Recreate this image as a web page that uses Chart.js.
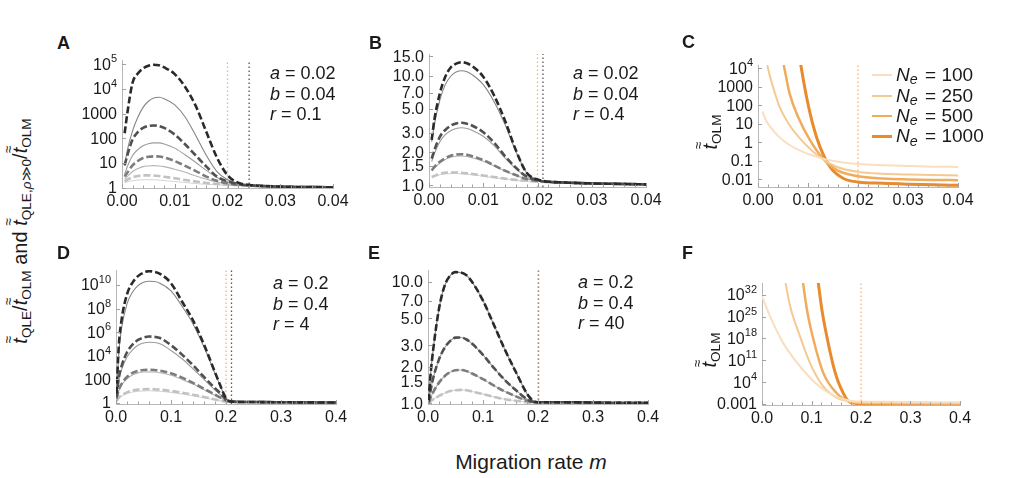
<!DOCTYPE html>
<html>
<head>
<meta charset="utf-8">
<script src="https://cdn.jsdelivr.net/npm/chart.js@4/dist/chart.umd.min.js"></script>
<style>
  body { margin: 0; background: #fff; }
  #fig { position: relative; width: 1024px; height: 478px; overflow: hidden; background: #fff;
         font-family: "Liberation Sans", Arial, sans-serif; color: #1a1a1a; }
  #fig canvas { position: absolute; }
  .lab { position: absolute; font-weight: bold; font-size: 18px; line-height: 18px; }
  .ann { position: absolute; font-size: 18px; line-height: 20.5px; white-space: nowrap; }
  .ttl { position: absolute; white-space: nowrap; transform: translate(-50%, -50%) rotate(-90deg); font-size: 20px; }
  .tt { position: relative; display: inline-block; font-style: italic; }
  .tt .dt { position: absolute; left: 0.03em; top: -0.62em; font-size: 0.7em; font-style: normal; }
  sub { font-size: 0.68em; vertical-align: -0.3em; line-height: 0; }
  .leg { position: absolute; left: 872px; top: 65px; font-size: 19px; }
  .leg div { display: flex; align-items: center; height: 20.4px; white-space: nowrap; }
  .leg span.ln { display: inline-block; width: 20px; margin-right: 4px; }
  .leg .se { font-style: italic; font-size: 0.75em; position: relative; top: 0.3em; margin-right: 0.15em; }
</style>
</head>
<body>
<div id="fig">
  <canvas id="cA"></canvas><canvas id="cB"></canvas><canvas id="cC"></canvas>
  <canvas id="cD"></canvas><canvas id="cE"></canvas><canvas id="cF"></canvas>

  <div class="lab" style="left:57px;top:34px">A</div>
  <div class="lab" style="left:369px;top:34px">B</div>
  <div class="lab" style="left:682px;top:33px">C</div>
  <div class="lab" style="left:57px;top:244px">D</div>
  <div class="lab" style="left:368px;top:244px">E</div>
  <div class="lab" style="left:682px;top:244px">F</div>

  <div class="ann" style="left:270px;top:63px"><i>a</i> = 0.02<br><i>b</i> = 0.04<br><i>r</i> = 0.1</div>
  <div class="ann" style="left:573px;top:63px"><i>a</i> = 0.02<br><i>b</i> = 0.04<br><i>r</i> = 0.4</div>
  <div class="ann" style="left:273px;top:273px"><i>a</i> = 0.2<br><i>b</i> = 0.4<br><i>r</i> = 4</div>
  <div class="ann" style="left:578px;top:272px"><i>a</i> = 0.2<br><i>b</i> = 0.4<br><i>r</i> = 40</div>

  <div class="ttl" style="left:20px;top:231px"><span class="tt">t<span class="dt">≈</span></span><sub>QLE</sub>/<span class="tt">t<span class="dt">≈</span></span><sub>OLM</sub> and <span class="tt">t<span class="dt">≈</span></span><sub>QLE,<i>ρ</i>≫0</sub>/<span class="tt">t<span class="dt">≈</span></span><sub>OLM</sub></div>
  <div class="ttl" style="left:710px;top:132px"><span class="tt">t<span class="dt">≈</span></span><sub>OLM</sub></div>
  <div class="ttl" style="left:709px;top:350px"><span class="tt">t<span class="dt">≈</span></span><sub>OLM</sub></div>

  <div id="legend" class="leg"></div>

  <div style="position:absolute;left:0;width:1062px;top:451px;text-align:center;font-size:21px;line-height:21px">Migration rate <i>m</i></div>
</div>

<script>
// ---- data ----
// panels A, B: m from 0 to 0.04
const mTop = [0.0005, 0.001, 0.002, 0.003, 0.004, 0.005, 0.006, 0.007, 0.008, 0.01,
              0.012, 0.014, 0.016, 0.018, 0.02, 0.022, 0.025, 0.03, 0.035, 0.04];

const aDash1 = [160, 1000, 17800, 41700, 67600, 87000, 95500, 91200, 74100, 39800, 11700, 2000, 178, 16.6, 3.2, 1.6, 1.25, 1.1, 1.06, 1.04];
const aDash2 = [8, 20, 89, 178, 263, 316, 331, 316, 263, 141, 56, 20, 7.1, 2.8, 1.8, 1.4, 1.22, 1.1, 1.06, 1.04];
const aDash3 = [2.8, 4, 8, 12, 16, 17.8, 18.6, 18.2, 16.6, 12, 7.6, 4.7, 2.8, 1.9, 1.5, 1.32, 1.2, 1.1, 1.06, 1.04];
const aDash4 = [1.78, 2.1, 2.6, 2.95, 3.16, 3.16, 3.1, 2.95, 2.75, 2.4, 2.04, 1.78, 1.55, 1.41, 1.32, 1.26, 1.18, 1.1, 1.06, 1.04];
const aSolid1 = [8, 32, 200, 710, 1780, 3160, 4270, 4570, 3980, 2240, 710, 126, 20, 4.5, 2.1, 1.5, 1.25, 1.1, 1.06, 1.04];
const aSolid2 = [3.5, 7, 20, 35, 50, 60, 65, 65, 59, 40, 21, 10.5, 5, 2.6, 1.74, 1.4, 1.22, 1.1, 1.06, 1.04];
const aSolid3 = [2.2, 2.8, 4.5, 5.9, 7.1, 7.6, 7.8, 7.6, 7.1, 5.6, 4.2, 2.95, 2.2, 1.7, 1.45, 1.3, 1.2, 1.1, 1.06, 1.04];
const aSolid4 = [1.58, 1.74, 1.9, 2.04, 2.1, 2.1, 2.1, 2.04, 1.95, 1.78, 1.62, 1.48, 1.38, 1.32, 1.26, 1.23, 1.17, 1.1, 1.06, 1.04];

const bDash1 = [2.6, 4.0, 6.9, 9.8, 11.9, 12.9, 13.3, 13.0, 12.2, 9.8, 6.6, 3.9, 2.1, 1.3, 1.13, 1.08, 1.06, 1.04, 1.03, 1.02];
const bDash2 = [1.75, 2.1, 2.77, 3.2, 3.5, 3.67, 3.72, 3.65, 3.5, 3.05, 2.45, 1.85, 1.45, 1.2, 1.11, 1.08, 1.06, 1.04, 1.03, 1.02];
const bDash3 = [1.37, 1.47, 1.64, 1.77, 1.86, 1.91, 1.92, 1.9, 1.84, 1.7, 1.52, 1.36, 1.24, 1.14, 1.1, 1.07, 1.06, 1.04, 1.03, 1.02];
const bDash4 = [1.19, 1.22, 1.27, 1.3, 1.31, 1.31, 1.3, 1.29, 1.27, 1.23, 1.19, 1.15, 1.12, 1.1, 1.08, 1.07, 1.06, 1.04, 1.03, 1.02];
const bSolid1 = [2.5, 3.6, 6.0, 8.3, 9.9, 10.8, 11.1, 10.9, 10.2, 8.3, 5.8, 3.6, 2.05, 1.3, 1.13, 1.08, 1.06, 1.04, 1.03, 1.02];
const bSolid2 = [1.65, 1.95, 2.5, 2.9, 3.15, 3.3, 3.35, 3.3, 3.17, 2.8, 2.3, 1.78, 1.42, 1.2, 1.11, 1.08, 1.06, 1.04, 1.03, 1.02];
const bSolid3 = [1.35, 1.44, 1.6, 1.72, 1.8, 1.84, 1.85, 1.83, 1.78, 1.66, 1.5, 1.35, 1.23, 1.14, 1.1, 1.07, 1.06, 1.04, 1.03, 1.02];
const bSolid4 = [1.17, 1.2, 1.25, 1.27, 1.28, 1.28, 1.27, 1.26, 1.25, 1.21, 1.17, 1.14, 1.11, 1.09, 1.08, 1.07, 1.06, 1.04, 1.03, 1.02];

// panels D, E: m from 0 to 0.4
const mBot = [0.001, 0.005, 0.01, 0.02, 0.03, 0.04, 0.05, 0.06, 0.07, 0.08, 0.1,
              0.12, 0.14, 0.16, 0.18, 0.19, 0.2, 0.21, 0.25, 0.3, 0.35, 0.4];

const dDash1 = [6.3, 6.3e4, 1e7, 1.6e9, 1.6e10, 5.6e10, 1.1e11, 1.5e11, 1.3e11, 8.9e10, 1.4e10, 4e8, 1e7, 8.9e4, 400, 28, 2.5, 1.3, 1.2, 1.15, 1.12, 1.1];
const dDash2 = [3.2, 126, 1260, 2e4, 8.9e4, 2.2e5, 3.5e5, 4.3e5, 4e5, 3.2e5, 7.9e4, 1.26e4, 1600, 160, 18, 6.3, 2, 1.3, 1.2, 1.15, 1.12, 1.1];
const dDash3 = [2.2, 12.6, 40, 160, 355, 525, 630, 660, 630, 550, 330, 141, 50, 16, 5, 2.8, 1.6, 1.3, 1.2, 1.15, 1.12, 1.1];
const dDash4 = [1.4, 2.8, 4.5, 7.9, 11.2, 13.5, 14.8, 15.1, 14.8, 13.5, 10.5, 7.4, 5, 3.2, 2, 1.6, 1.32, 1.3, 1.2, 1.15, 1.12, 1.1];
const dSolid1 = [5, 1.6e4, 2e6, 2.5e8, 2.5e9, 8.9e9, 1.7e10, 2.1e10, 2e10, 1.4e10, 3.2e9, 1.6e8, 5e6, 5.6e4, 320, 25, 2.5, 1.3, 1.2, 1.15, 1.12, 1.1];
const dSolid2 = [2.8, 80, 630, 7900, 3.2e4, 7.9e4, 1.2e5, 1.4e5, 1.35e5, 1.05e5, 2.8e4, 5600, 800, 100, 12.6, 5.2, 2, 1.3, 1.2, 1.15, 1.12, 1.1];
const dSolid3 = [2, 10, 32, 112, 240, 355, 420, 430, 420, 365, 225, 100, 40, 13, 4.5, 2.6, 1.6, 1.3, 1.2, 1.15, 1.12, 1.1];
const dSolid4 = [1.35, 2.5, 3.9, 6.3, 8.5, 10, 10.7, 11, 10.7, 10, 7.9, 5.8, 4.1, 2.8, 1.85, 1.5, 1.3, 1.3, 1.2, 1.15, 1.12, 1.1];

const eDash1 = [1.05, 1.8, 2.9, 6.0, 9.2, 11.2, 12.0, 11.9, 11.3, 10.0, 7.0, 4.4, 2.75, 1.8, 1.2, 1.06, 1.02, 1.02, 1.02, 1.015, 1.01, 1.01];
const eDash2 = [1.02, 1.3, 1.65, 2.3, 2.85, 3.25, 3.47, 3.48, 3.35, 3.1, 2.5, 1.95, 1.55, 1.28, 1.08, 1.03, 1.02, 1.02, 1.02, 1.015, 1.01, 1.01];
const eDash3 = [1.01, 1.12, 1.25, 1.48, 1.67, 1.8, 1.87, 1.88, 1.84, 1.76, 1.58, 1.4, 1.25, 1.14, 1.05, 1.02, 1.01, 1.01, 1.01, 1.01, 1.01, 1.01];
const eDash4 = [1.0, 1.04, 1.08, 1.15, 1.21, 1.26, 1.28, 1.29, 1.28, 1.25, 1.19, 1.13, 1.08, 1.05, 1.02, 1.01, 1.0, 1.0, 1.0, 1.0, 1.0, 1.0];

// panel C: t_OLM for four N_e, m to 0.04
const neLabels = ['100', '250', '500', '1000'];
const cM100 = [0.0009, 0.0015, 0.0025, 0.004, 0.006, 0.009, 0.013, 0.016, 0.02, 0.025, 0.03, 0.035, 0.04];
const cT100 = [45, 17, 6.5, 2.2, 0.8, 0.3, 0.13, 0.087, 0.066, 0.057, 0.052, 0.048, 0.046];
const cM250 = [0.0017, 0.002, 0.003, 0.0043, 0.0063, 0.009, 0.0123, 0.0157, 0.02, 0.025, 0.03, 0.035, 0.04];
const cT250 = [3e4, 1.0e4, 1000, 83, 8.5, 1.05, 0.16, 0.047, 0.025, 0.02, 0.018, 0.0168, 0.016];
const cM500 = [0.0048, 0.0052, 0.0063, 0.008, 0.0104, 0.013, 0.0158, 0.02, 0.025, 0.03, 0.035, 0.04];
const cT500 = [4e4, 1.3e4, 450, 24, 1.3, 0.13, 0.031, 0.0145, 0.011, 0.0098, 0.0092, 0.0089];
const cM1000 = [0.0083, 0.0086, 0.0097, 0.0111, 0.0124, 0.0144, 0.0171, 0.02, 0.025, 0.03, 0.035, 0.04];
const cT1000 = [4e4, 1.3e4, 290, 6.8, 0.56, 0.047, 0.011, 0.0071, 0.006, 0.0054, 0.005, 0.0047];

// panel F: m to 0.4
const fM100 = [0.0, 0.0166, 0.043, 0.083, 0.1166, 0.15, 0.178, 0.2, 0.25, 0.3, 0.35, 0.4];
const fT100 = [3.2e31, 1e25, 3.2e16, 7.9e7, 360, 0.22, 0.0115, 0.0063, 0.005, 0.0045, 0.004, 0.004];
const fM250 = [0.045, 0.057, 0.077, 0.097, 0.124, 0.15, 0.178, 0.2, 0.25, 0.3, 0.35, 0.4];
const fT250 = [1e38, 1.6e28, 4e18, 1.3e10, 360, 0.126, 0.0063, 0.0032, 0.0025, 0.0022, 0.002, 0.002];
const fM500 = [0.081, 0.0908, 0.104, 0.124, 0.151, 0.178, 0.2, 0.25, 0.3, 0.35, 0.4];
const fT500 = [1e38, 1.6e27, 4e17, 7.9e6, 2.75, 0.005, 0.002, 0.0016, 0.0014, 0.0013, 0.0013];
const fM1000 = [0.112, 0.121, 0.131, 0.1445, 0.158, 0.178, 0.2, 0.25, 0.3, 0.35, 0.4];
const fT1000 = [1e38, 1.6e27, 4e18, 1e9, 360, 0.0032, 0.0013, 0.001, 0.001, 0.001, 0.001];

// dotted vertical markers (m values)
const critA = [0.02, 0.0241];
const critB = [0.02, 0.021];
const critD = [0.2, 0.21];
const critE = [0.2, 0.201];
const critC = [0.02];
const critF = [0.2];

// y tick values and labels ("base^exp" is drawn with a raised exponent)
const yTicksA = [1, 10, 100, 1000, 1e4, 1e5];
const yLabelsA = ['1', '10', '100', '1000', '10^4', '10^5'];
const yTicksB = [1, 1.5, 2, 3, 5, 7, 10, 15];
const yLabelsB = ['1.0', '1.5', '2.0', '3.0', '5.0', '7.0', '10.0', '15.0'];
const yTicksC = [0.01, 0.1, 1, 10, 100, 1000, 1e4];
const yLabelsC = ['0.01', '0.1', '1', '10', '100', '1000', '10^4'];
const yTicksD = [1, 100, 1e4, 1e6, 1e8, 1e10];
const yLabelsD = ['1', '100', '10^4', '10^6', '10^8', '10^10'];
const yTicksE = [1, 1.5, 2, 3, 5, 7, 10];
const yLabelsE = ['1.0', '1.5', '2.0', '3.0', '5.0', '7.0', '10.0'];
const yTicksF = [0.001, 1e4, 1e11, 1e18, 1e25, 1e32];
const yLabelsF = ['0.001', '10^4', '10^11', '10^18', '10^25', '10^32'];

// ---- styles ----
const dashGrey = ['#2a2a2a', '#505050', '#7c7c7c', '#c2c2c2'];
const solidGrey = ['#858585', '#9c9c9c', '#b4b4b4', '#d6d6d6'];
const orange = ['#f9dfbf', '#f5c992', '#f0ac5c', '#e98a2c'];
const orangeW = [2, 2, 2.5, 3];
const critColor = ['#f2b27a', '#555555'];
const FONT = '"Liberation Sans", Arial, sans-serif';
const TICK_PX = 16;

Chart.defaults.font.family = FONT;

// inward tick marks and y labels with superscripts
const innerTicks = {
  id: 'innerTicks',
  afterDraw(chart, args, opts) {
    const {ctx, chartArea: a, scales: {x, y}} = chart;
    ctx.save();
    ctx.strokeStyle = '#a0a0a0';
    ctx.lineWidth = 1;
    ctx.beginPath();
    x.ticks.forEach(t => {
      const px = Math.round(x.getPixelForValue(t.value)) + 0.5;
      const len = t.label ? 4 : 2.5;
      ctx.moveTo(px, a.bottom);
      ctx.lineTo(px, a.bottom - len);
    });
    y.ticks.forEach(t => {
      const py = Math.round(y.getPixelForValue(t.value)) + 0.5;
      ctx.moveTo(a.left, py);
      ctx.lineTo(a.left + 4, py);
    });
    ctx.stroke();

    ctx.fillStyle = '#1a1a1a';
    ctx.textAlign = 'right';
    ctx.textBaseline = 'middle';
    const xr = a.left - 5;
    opts.labels.forEach((lab, i) => {
      const py = y.getPixelForValue(opts.values[i]);
      const parts = lab.split('^');
      if (parts.length === 2) {
        ctx.font = '11px ' + FONT;
        const ew = ctx.measureText(parts[1]).width;
        ctx.fillText(parts[1], xr, py - 5);
        ctx.font = TICK_PX + 'px ' + FONT;
        ctx.fillText(parts[0], xr - ew, py + 1);
      } else {
        ctx.font = TICK_PX + 'px ' + FONT;
        ctx.fillText(lab, xr, py + 1);
      }
    });
    ctx.restore();
  }
};

function curve(xs, ys, color, width, dash, order) {
  return {
    data: xs.map((x, i) => ({x: x, y: ys[i]})),
    borderColor: color, borderWidth: width, borderDash: dash,
    pointRadius: 0, fill: false, cubicInterpolationMode: 'monotone', order: order
  };
}

function vline(m, yMin, yMax, color) {
  return {
    data: [{x: m, y: yMin}, {x: m, y: yMax}],
    borderColor: color, borderWidth: 1.3, borderDash: [1.5, 2.5],
    pointRadius: 0, fill: false, order: 5
  };
}

function panel(id, box, xMax, yMin, yMax, yTicks, yLabels, datasets) {
  const yW = 52, padTop = 14, xH = 28, padR = 22;
  const cv = document.getElementById(id);
  const w = box.r - box.l + yW + padR;
  const h = box.b - box.t + padTop + xH;
  cv.width = w; cv.height = h;
  cv.style.width = w + 'px'; cv.style.height = h + 'px';
  cv.style.left = (box.l - yW) + 'px';
  cv.style.top = (box.t - padTop) + 'px';
  const step = xMax / 20;
  const digits = xMax < 0.1 ? 2 : 1;
  new Chart(cv, {
    type: 'line',
    data: {datasets: datasets},
    plugins: [innerTicks],
    options: {
      responsive: false, animation: false, events: [],
      layout: {padding: {top: padTop, right: padR, left: 0, bottom: 0}},
      plugins: {
        legend: {display: false}, tooltip: {enabled: false},
        innerTicks: {values: yTicks, labels: yLabels}
      },
      scales: {
        x: {
          type: 'linear', min: 0, max: xMax,
          grid: {display: false, drawTicks: false},
          border: {color: '#b8b8b8'},
          afterBuildTicks: s => {
            const t = [];
            for (let i = 0; i <= 20; i++) t.push({value: i * step});
            s.ticks = t;
          },
          ticks: {
            autoSkip: false, maxRotation: 0, padding: 4, color: '#1a1a1a',
            font: {size: TICK_PX},
            callback: (v, i) => (i % 5 === 0 ? (i * step).toFixed(digits) : '')
          },
          afterFit: s => { s.height = xH; }
        },
        y: {
          type: 'logarithmic', min: yMin, max: yMax,
          grid: {display: false, drawTicks: false},
          border: {color: '#b8b8b8'},
          afterBuildTicks: s => { s.ticks = yTicks.map(v => ({value: v})); },
          ticks: {display: false},
          afterFit: s => { s.width = yW; }
        }
      }
    }
  });
}

function greyPanel(xs, dashes, solids, crit, yMin, yMax) {
  const ds = [];
  crit.forEach((m, i) => ds.push(vline(m, yMin, yMax, critColor[i])));
  solids.forEach((ys, i) => ds.push(curve(xs, ys, solidGrey[i], 1.1, [], 2)));
  dashes.forEach((ys, i) => ds.push(curve(xs, ys, dashGrey[i], 2.6, [7, 3], 1)));
  return ds;
}

function orangePanel(ms, ts, crit, yMin, yMax) {
  const ds = [];
  crit.forEach(m => ds.push(vline(m, yMin, yMax, critColor[0])));
  ms.forEach((xs, i) => ds.push(curve(xs, ts[i], orange[i], orangeW[i], [], 1)));
  return ds;
}

const boxes = {
  A: {l: 122, t: 60, r: 333, b: 188},
  B: {l: 429, t: 54, r: 646, b: 187},
  C: {l: 758, t: 65, r: 958, b: 187},
  D: {l: 116, t: 270, r: 336, b: 404},
  E: {l: 428, t: 270, r: 648, b: 404},
  F: {l: 762, t: 283, r: 960, b: 405}
};

panel('cA', boxes.A, 0.04, 0.97, 1.48e5, yTicksA, yLabelsA,
  greyPanel(mTop, [aDash1, aDash2, aDash3, aDash4], [aSolid1, aSolid2, aSolid3, aSolid4], critA, 0.97, 1.48e5));
panel('cB', boxes.B, 0.04, 0.965, 15.8, yTicksB, yLabelsB,
  greyPanel(mTop, [bDash1, bDash2, bDash3, bDash4], [bSolid1, bSolid2, bSolid3, bSolid4], critB, 0.965, 15.8));
panel('cD', boxes.D, 0.4, 0.82, 1.86e11, yTicksD, yLabelsD,
  greyPanel(mBot, [dDash1, dDash2, dDash3, dDash4], [dSolid1, dSolid2, dSolid3, dSolid4], critD, 0.82, 1.86e11));
// in E the exact curves lie under the dashed approximations
panel('cE', boxes.E, 0.4, 0.987, 12.5, yTicksE, yLabelsE,
  greyPanel(mBot, [eDash1, eDash2, eDash3, eDash4], [eDash1, eDash2, eDash3, eDash4], critE, 0.987, 12.5));
panel('cC', boxes.C, 0.04, 0.0038, 1.5e4, yTicksC, yLabelsC,
  orangePanel([cM100, cM250, cM500, cM1000], [cT100, cT250, cT500, cT1000], critC, 0.0038, 1.5e4));
panel('cF', boxes.F, 0.4, 4.8e-4, 5.8e35, yTicksF, yLabelsF,
  orangePanel([fM100, fM250, fM500, fM1000], [fT100, fT250, fT500, fT1000], critF, 4.8e-4, 5.8e35));

// legend for panel C
const leg = document.getElementById('legend');
neLabels.forEach((n, i) => {
  const row = document.createElement('div');
  row.innerHTML = '<span class="ln" style="border-top:' + orangeW[i] + 'px solid ' + orange[i] + '"></span>' +
    '<i>N</i><span class="se">e</span><span>&nbsp;= ' + n + '</span>';
  leg.appendChild(row);
});
</script>
</body>
</html>
